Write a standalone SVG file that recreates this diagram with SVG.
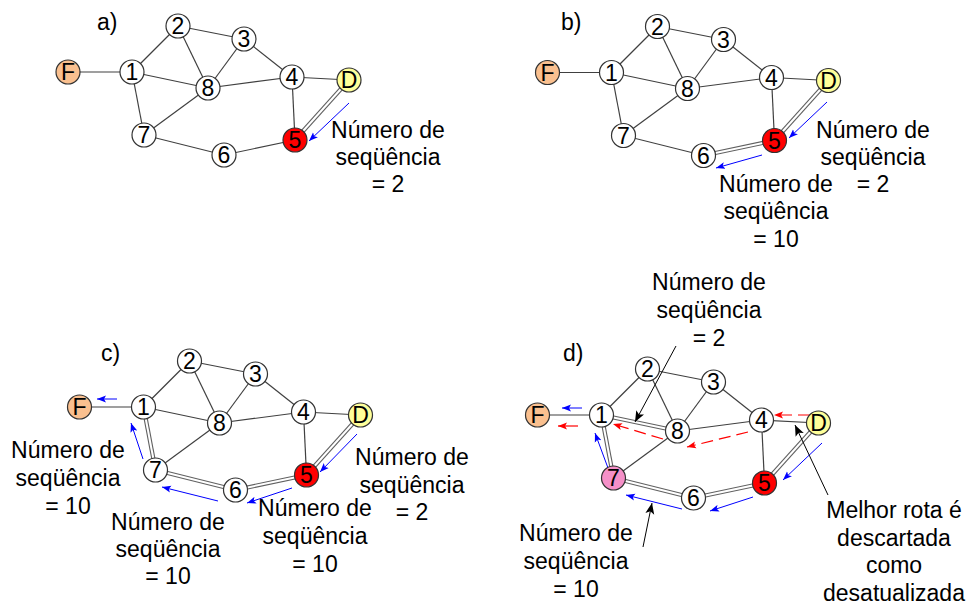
<svg xmlns="http://www.w3.org/2000/svg" width="972" height="607" viewBox="0 0 972 607">
<style>
.e{stroke:#404040;stroke-width:1.2;fill:none}
.d1{stroke:#606060;stroke-width:4.2;fill:none}
.d2{stroke:#fff;stroke-width:2;fill:none}
.n circle{fill:#fff;stroke:#333;stroke-width:1.2}
.n text{font-family:"Liberation Sans",Arial,sans-serif;font-size:23px;text-anchor:middle;fill:#000}
.f circle{fill:#FAC08F}
.dn circle{fill:#FFFF99}
.r circle{fill:#FF0000}
.p circle{fill:#F590C8}
.t{font-family:"Liberation Sans",Arial,sans-serif;font-size:23px;text-anchor:middle;fill:#000}
.lb{font-family:"Liberation Sans",Arial,sans-serif;font-size:23px;fill:#000}
.ab{stroke:#0000FF;stroke-width:1;fill:none;marker-end:url(#mb)}
.ar{stroke:#FF0000;stroke-width:1.2;fill:none;marker-end:url(#mr)}
.ard{stroke:#FF0000;stroke-width:1.2;fill:none;stroke-dasharray:12 6;marker-end:url(#mr)}
.ak{stroke:#000;stroke-width:1;fill:none;marker-end:url(#mk)}
</style>
<defs>
<marker id="mb" markerUnits="userSpaceOnUse" markerWidth="10" markerHeight="8" refX="9" refY="4" orient="auto"><path d="M0,0.5 L9,4 L0,7.5 L2,4 Z" fill="#0000FF"/></marker>
<marker id="mr" markerUnits="userSpaceOnUse" markerWidth="10" markerHeight="8" refX="9" refY="4" orient="auto"><path d="M0,0.5 L9,4 L0,7.5 L2,4 Z" fill="#FF0000"/></marker>
<marker id="mk" markerUnits="userSpaceOnUse" markerWidth="12" markerHeight="10" refX="11" refY="5" orient="auto"><path d="M0,0.5 L11,5 L0,9.5 L2.5,5 Z" fill="#000"/></marker>
</defs>
<rect width="972" height="607" fill="#fff"/>

<g id="connectors">
 <g id="edges-a">
  <line class="e" x1="68" y1="72" x2="132" y2="72"/>
  <line class="e" x1="132" y1="72" x2="178" y2="26"/>
  <line class="e" x1="132" y1="72" x2="208" y2="88"/>
  <line class="e" x1="132" y1="72" x2="144" y2="135"/>
  <line class="e" x1="178" y1="26" x2="244" y2="39"/>
  <line class="e" x1="178" y1="26" x2="208" y2="88"/>
  <line class="e" x1="244" y1="39" x2="208" y2="88"/>
  <line class="e" x1="244" y1="39" x2="292" y2="77"/>
  <line class="e" x1="292" y1="77" x2="208" y2="88"/>
  <line class="e" x1="292" y1="77" x2="349" y2="80"/>
  <line class="e" x1="292" y1="77" x2="295" y2="140"/>
  <line class="e" x1="208" y1="88" x2="144" y2="135"/>
  <line class="e" x1="144" y1="135" x2="224" y2="155"/>
  <line class="e" x1="224" y1="155" x2="295" y2="140"/>
  <line class="d1" x1="349" y1="80" x2="295" y2="140"/><line class="d2" x1="349" y1="80" x2="295" y2="140"/>
 </g>
 <g id="edges-b" transform="translate(479.5,0.5)">
  <line class="e" x1="68" y1="72" x2="132" y2="72"/>
  <line class="e" x1="132" y1="72" x2="178" y2="26"/>
  <line class="e" x1="132" y1="72" x2="208" y2="88"/>
  <line class="e" x1="132" y1="72" x2="144" y2="135"/>
  <line class="e" x1="178" y1="26" x2="244" y2="39"/>
  <line class="e" x1="178" y1="26" x2="208" y2="88"/>
  <line class="e" x1="244" y1="39" x2="208" y2="88"/>
  <line class="e" x1="244" y1="39" x2="292" y2="77"/>
  <line class="e" x1="292" y1="77" x2="208" y2="88"/>
  <line class="e" x1="292" y1="77" x2="349" y2="80"/>
  <line class="e" x1="292" y1="77" x2="295" y2="140"/>
  <line class="e" x1="208" y1="88" x2="144" y2="135"/>
  <line class="e" x1="144" y1="135" x2="224" y2="155"/>
  <line class="d1" x1="224" y1="155" x2="295" y2="140"/><line class="d2" x1="224" y1="155" x2="295" y2="140"/>
  <line class="d1" x1="349" y1="80" x2="295" y2="140"/><line class="d2" x1="349" y1="80" x2="295" y2="140"/>
 </g>
 <g id="edges-c" transform="translate(11.5,335)">
  <line class="e" x1="68" y1="72" x2="132" y2="72"/>
  <line class="e" x1="132" y1="72" x2="178" y2="26"/>
  <line class="e" x1="132" y1="72" x2="208" y2="88"/>
  <line class="d1" x1="132" y1="72" x2="144" y2="135"/><line class="d2" x1="132" y1="72" x2="144" y2="135"/>
  <line class="e" x1="178" y1="26" x2="244" y2="39"/>
  <line class="e" x1="178" y1="26" x2="208" y2="88"/>
  <line class="e" x1="244" y1="39" x2="208" y2="88"/>
  <line class="e" x1="244" y1="39" x2="292" y2="77"/>
  <line class="e" x1="292" y1="77" x2="208" y2="88"/>
  <line class="e" x1="292" y1="77" x2="349" y2="80"/>
  <line class="e" x1="292" y1="77" x2="295" y2="140"/>
  <line class="e" x1="208" y1="88" x2="144" y2="135"/>
  <line class="d1" x1="144" y1="135" x2="224" y2="155"/><line class="d2" x1="144" y1="135" x2="224" y2="155"/>
  <line class="d1" x1="224" y1="155" x2="295" y2="140"/><line class="d2" x1="224" y1="155" x2="295" y2="140"/>
  <line class="d1" x1="349" y1="80" x2="295" y2="140"/><line class="d2" x1="349" y1="80" x2="295" y2="140"/>
 </g>
 <g id="edges-d" transform="translate(469.5,343)">
  <line class="e" x1="68" y1="72" x2="132" y2="72"/>
  <line class="e" x1="132" y1="72" x2="178" y2="26"/>
  <line class="d1" x1="132" y1="72" x2="208" y2="88"/><line class="d2" x1="132" y1="72" x2="208" y2="88"/>
  <line class="d1" x1="132" y1="72" x2="144" y2="135"/><line class="d2" x1="132" y1="72" x2="144" y2="135"/>
  <line class="e" x1="178" y1="26" x2="244" y2="39"/>
  <line class="e" x1="178" y1="26" x2="208" y2="88"/>
  <line class="e" x1="244" y1="39" x2="208" y2="88"/>
  <line class="e" x1="244" y1="39" x2="292" y2="77"/>
  <line class="e" x1="292" y1="77" x2="208" y2="88"/>
  <line class="e" x1="292" y1="77" x2="349" y2="80"/>
  <line class="e" x1="292" y1="77" x2="295" y2="140"/>
  <line class="e" x1="208" y1="88" x2="144" y2="135"/>
  <line class="d1" x1="144" y1="135" x2="224" y2="155"/><line class="d2" x1="144" y1="135" x2="224" y2="155"/>
  <line class="d1" x1="224" y1="155" x2="295" y2="140"/><line class="d2" x1="224" y1="155" x2="295" y2="140"/>
  <line class="d1" x1="349" y1="80" x2="295" y2="140"/><line class="d2" x1="349" y1="80" x2="295" y2="140"/>
 </g>
 <g id="flow-arrows">
  <line class="ab" x1="349" y1="103" x2="309" y2="141"/>
  <line class="ab" x1="827" y1="102" x2="789" y2="138"/>
  <line class="ab" x1="762" y1="155" x2="716" y2="168"/>
  <line class="ab" x1="117" y1="399" x2="97" y2="399"/>
  <line class="ab" x1="143" y1="459" x2="131" y2="423"/>
  <line class="ab" x1="218" y1="501" x2="162" y2="487"/>
  <line class="ab" x1="292" y1="488" x2="247" y2="503"/>
  <line class="ab" x1="357" y1="434" x2="320" y2="472"/>
  <line class="ab" x1="582" y1="408" x2="562" y2="408"/>
  <line class="ab" x1="608" y1="468" x2="595" y2="433"/>
  <line class="ab" x1="682" y1="509" x2="626" y2="495"/>
  <line class="ab" x1="753" y1="497" x2="710" y2="511"/>
  <line class="ab" x1="822" y1="443" x2="783" y2="480"/>
  <line class="ar" x1="578" y1="426" x2="558" y2="426"/>
  <line class="ard" x1="663" y1="439" x2="613" y2="424"/>
  <line class="ard" x1="748" y1="432" x2="687" y2="447"/>
  <line class="ard" x1="810" y1="415" x2="774" y2="415"/>
 </g>
</g>

<g id="panel-a">
 <g id="a-F" class="n f"><circle cx="68" cy="72" r="12"/><text x="68" y="80.2">F</text></g>
 <g id="a-1" class="n"><circle cx="132" cy="72" r="12"/><text x="132" y="80.2">1</text></g>
 <g id="a-2" class="n"><circle cx="178" cy="26" r="12"/><text x="178" y="34.2">2</text></g>
 <g id="a-3" class="n"><circle cx="244" cy="39" r="12"/><text x="244" y="47.2">3</text></g>
 <g id="a-8" class="n"><circle cx="208" cy="88" r="12"/><text x="208" y="96.2">8</text></g>
 <g id="a-4" class="n"><circle cx="292" cy="77" r="12"/><text x="292" y="85.2">4</text></g>
 <g id="a-D" class="n dn"><circle cx="349" cy="80" r="12"/><text x="349" y="88.2">D</text></g>
 <g id="a-7" class="n"><circle cx="144" cy="135" r="12"/><text x="144" y="143.2">7</text></g>
 <g id="a-6" class="n"><circle cx="224" cy="155" r="12"/><text x="224" y="163.2">6</text></g>
 <g id="a-5" class="n r"><circle cx="295" cy="140" r="12"/><text x="295" y="148.2">5</text></g>
</g>
<g id="panel-b" transform="translate(479.5,0.5)">
 <g id="b-F" class="n f"><circle cx="68" cy="72" r="12"/><text x="68" y="80.2">F</text></g>
 <g id="b-1" class="n"><circle cx="132" cy="72" r="12"/><text x="132" y="80.2">1</text></g>
 <g id="b-2" class="n"><circle cx="178" cy="26" r="12"/><text x="178" y="34.2">2</text></g>
 <g id="b-3" class="n"><circle cx="244" cy="39" r="12"/><text x="244" y="47.2">3</text></g>
 <g id="b-8" class="n"><circle cx="208" cy="88" r="12"/><text x="208" y="96.2">8</text></g>
 <g id="b-4" class="n"><circle cx="292" cy="77" r="12"/><text x="292" y="85.2">4</text></g>
 <g id="b-D" class="n dn"><circle cx="349" cy="80" r="12"/><text x="349" y="88.2">D</text></g>
 <g id="b-7" class="n"><circle cx="144" cy="135" r="12"/><text x="144" y="143.2">7</text></g>
 <g id="b-6" class="n"><circle cx="224" cy="155" r="12"/><text x="224" y="163.2">6</text></g>
 <g id="b-5" class="n r"><circle cx="295" cy="140" r="12"/><text x="295" y="148.2">5</text></g>
</g>
<g id="panel-c" transform="translate(11.5,335)">
 <g id="c-F" class="n f"><circle cx="68" cy="72" r="12"/><text x="68" y="80.2">F</text></g>
 <g id="c-1" class="n"><circle cx="132" cy="72" r="12"/><text x="132" y="80.2">1</text></g>
 <g id="c-2" class="n"><circle cx="178" cy="26" r="12"/><text x="178" y="34.2">2</text></g>
 <g id="c-3" class="n"><circle cx="244" cy="39" r="12"/><text x="244" y="47.2">3</text></g>
 <g id="c-8" class="n"><circle cx="208" cy="88" r="12"/><text x="208" y="96.2">8</text></g>
 <g id="c-4" class="n"><circle cx="292" cy="77" r="12"/><text x="292" y="85.2">4</text></g>
 <g id="c-D" class="n dn"><circle cx="349" cy="80" r="12"/><text x="349" y="88.2">D</text></g>
 <g id="c-7" class="n"><circle cx="144" cy="135" r="12"/><text x="144" y="143.2">7</text></g>
 <g id="c-6" class="n"><circle cx="224" cy="155" r="12"/><text x="224" y="163.2">6</text></g>
 <g id="c-5" class="n r"><circle cx="295" cy="140" r="12"/><text x="295" y="148.2">5</text></g>
</g>
<g id="panel-d" transform="translate(469.5,343)">
 <g id="d-F" class="n f"><circle cx="68" cy="72" r="12"/><text x="68" y="80.2">F</text></g>
 <g id="d-1" class="n"><circle cx="132" cy="72" r="12"/><text x="132" y="80.2">1</text></g>
 <g id="d-2" class="n"><circle cx="178" cy="26" r="12"/><text x="178" y="34.2">2</text></g>
 <g id="d-3" class="n"><circle cx="244" cy="39" r="12"/><text x="244" y="47.2">3</text></g>
 <g id="d-8" class="n"><circle cx="208" cy="88" r="12"/><text x="208" y="96.2">8</text></g>
 <g id="d-4" class="n"><circle cx="292" cy="77" r="12"/><text x="292" y="85.2">4</text></g>
 <g id="d-D" class="n dn"><circle cx="349" cy="80" r="12"/><text x="349" y="88.2">D</text></g>
 <g id="d-7" class="n p"><circle cx="144" cy="135" r="12"/><text x="144" y="143.2">7</text></g>
 <g id="d-6" class="n"><circle cx="224" cy="155" r="12"/><text x="224" y="163.2">6</text></g>
 <g id="d-5" class="n r"><circle cx="295" cy="140" r="12"/><text x="295" y="148.2">5</text></g>
</g>

<g id="callouts">
 <line class="ak" x1="676" y1="346" x2="635" y2="422"/>
 <line class="ak" x1="643" y1="547" x2="652" y2="503"/>
 <line class="ak" x1="828" y1="495" x2="795" y2="425"/>
</g>

<g id="labels">
 <text class="lb" x="97" y="30">a)</text>
 <text class="lb" x="561" y="30">b)</text>
 <text class="lb" x="101" y="361">c)</text>
 <text class="lb" x="563" y="361">d)</text>

 <text class="t" x="388"><tspan x="388" y="138">Número de</tspan><tspan x="388" y="165">seqüência</tspan><tspan x="388" y="192">= 2</tspan></text>
 <text class="t" x="873"><tspan x="873" y="138">Número de</tspan><tspan x="873" y="165">seqüência</tspan><tspan x="873" y="192">= 2</tspan></text>
 <text class="t" x="776"><tspan x="776" y="192">Número de</tspan><tspan x="776" y="219">seqüência</tspan><tspan x="776" y="247">= 10</tspan></text>
 <text class="t" x="68"><tspan x="68" y="458">Número de</tspan><tspan x="68" y="486">seqüência</tspan><tspan x="68" y="514">= 10</tspan></text>
 <text class="t" x="168"><tspan x="168" y="530">Número de</tspan><tspan x="168" y="557">seqüência</tspan><tspan x="168" y="584">= 10</tspan></text>
 <text class="t" x="315"><tspan x="315" y="516">Número de</tspan><tspan x="315" y="544">seqüência</tspan><tspan x="315" y="572">= 10</tspan></text>
 <text class="t" x="412"><tspan x="412" y="465">Número de</tspan><tspan x="412" y="493">seqüência</tspan><tspan x="412" y="520">= 2</tspan></text>
 <text class="t" x="709"><tspan x="709" y="290">Número de</tspan><tspan x="709" y="318">seqüência</tspan><tspan x="709" y="346">= 2</tspan></text>
 <text class="t" x="576"><tspan x="576" y="541">Número de</tspan><tspan x="576" y="569">seqüência</tspan><tspan x="576" y="597">= 10</tspan></text>
 <text class="t" x="894"><tspan x="894" y="518">Melhor rota é</tspan><tspan x="894" y="546">descartada</tspan><tspan x="894" y="573">como</tspan><tspan x="894" y="601">desatualizada</tspan></text>
</g>
</svg>
